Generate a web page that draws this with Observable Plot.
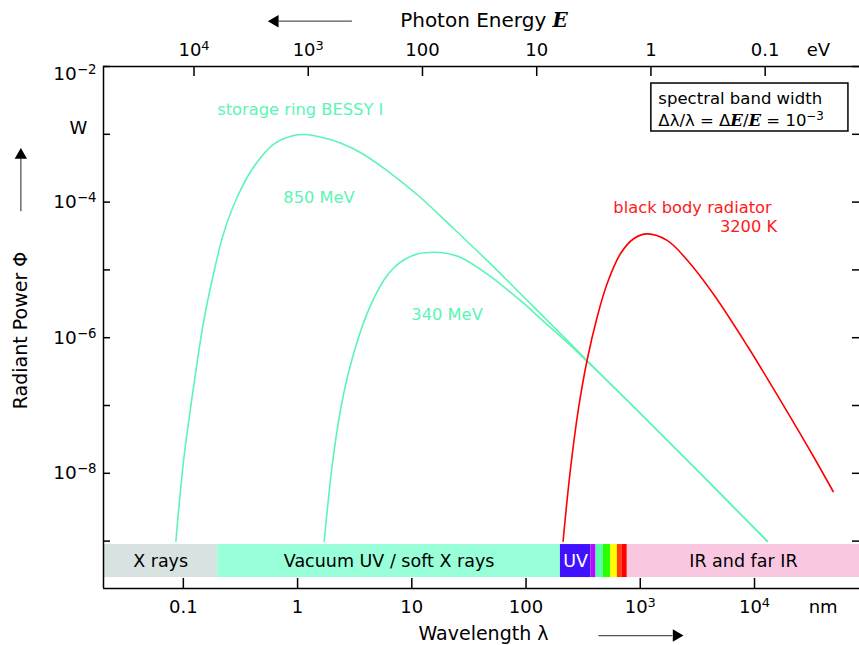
<!DOCTYPE html>
<html>
<head>
<meta charset="utf-8">
<script src="https://cdn.jsdelivr.net/npm/d3@7"></script>
<script src="https://cdn.jsdelivr.net/npm/@observablehq/plot@0.6"></script>
<style>
  html, body { margin: 0; padding: 0; background: #fff; }
  svg { display: block; }
</style>
</head>
<body>
<div id="chart"></div>
<script>
// ---------- data ----------
const hc = 1239.84; // eV·nm

// storage ring BESSY I, 850 MeV
const lambda850 = [0.0861, 0.1005, 0.123, 0.150, 0.184, 0.225, 0.295, 0.412, 0.616, 0.923, 1.17, 1.58, 2.37, 3.54, 6.07, 11.9, 23.2, 45.5, 89.1, 221, 342, 1002, 3360, 12900];
const power850  = [1.0e-9, 1.545e-8, 1.905e-7, 1.676e-6, 8.85e-6, 3.44e-5, 1.17e-4, 3.30e-4, 7.12e-4, 9.6e-4, 9.93e-4, 9.12e-4, 7.44e-4, 5.39e-4, 2.92e-4, 1.17e-4, 4.08e-5, 1.38e-5, 4.49e-6, 9.73e-7, 4.61e-7, 7.62e-8, 9.93e-9, 1.0e-9];

// storage ring BESSY I, 340 MeV
const lambda340 = [1.71, 2.07, 2.53, 3.09, 4.05, 5.66, 6.93, 8.48, 11.4, 15.5, 20.5, 26.6, 45.5, 89.1, 143, 221, 342, 1002, 3360, 12900];
const power340  = [1.0e-9, 1.94e-8, 1.49e-7, 5.79e-7, 2.25e-6, 6.98e-6, 1.067e-5, 1.40e-5, 1.73e-5, 1.82e-5, 1.75e-5, 1.54e-5, 8.75e-6, 3.54e-6, 1.73e-6, 9.03e-7, 4.49e-7, 7.62e-8, 9.93e-9, 1.0e-9];

// black body radiator, 3200 K
const lambdaBB = [211, 244, 289, 342, 419, 512, 670, 875, 1148, 1718, 2570, 4395, 8610, 16860, 33000, 48800];
const powerBB  = [1.0e-9, 1.10e-8, 9.44e-8, 4.61e-7, 2.0e-6, 6.24e-6, 1.73e-5, 2.88e-5, 3.40e-5, 2.72e-5, 1.40e-5, 4.34e-6, 7.67e-7, 1.19e-7, 1.74e-8, 5.39e-9];

// spectral bands (nm)
const bandNames  = ["X rays", "Vacuum UV / soft X rays", "UV", "", "", "", "", "", "", "IR and far IR"];
const bandStart  = [0.02, 0.2, 200, 370, 410, 475, 550, 630, 690, 770];
const bandEnd    = [0.2, 200, 370, 410, 475, 550, 630, 690, 770, 83000];
const bandColors = ["#d8e3e1", "#99ffd9", "#4010ff", "#b40cff", "#55ffaa", "#2cff00", "#ffff00", "#ff4000", "#ff0000", "#f9c8e0"];
const bandText   = ["#000", "#000", "#fff", "#000", "#000", "#000", "#000", "#000", "#000", "#000"];
const bandLow = 2.9e-10, bandHigh = 8.9e-10;

// ticks
const wavelengthTicks  = [0.1, 1, 10, 100, 1e3, 1e4];
const wavelengthLabels = ["0.1", "1", "10", "100", "10^3", "10^4"];
const energyTicks  = [1e4, 1e3, 100, 10, 1, 0.1];
const energyLabels = ["10^4", "10^3", "100", "10", "1", "0.1"];
const powerTicks = [1e-2, 1e-3, 1e-4, 1e-5, 1e-6, 1e-7, 1e-8, 1e-9];
const powerLabelValues = [1e-4, 1e-6, 1e-8];
const powerLabels = ["10^−4", "10^−6", "10^−8"];

// annotations (data coordinates)
const curveLabels = [
  {x: 0.198, y: 2.32e-3, text: "storage ring BESSY I", color: "#5cf5b5", anchor: "start"},
  {x: 0.75, y: 1.17e-4, text: "850 MeV", color: "#5cf5b5", anchor: "start"},
  {x: 9.9, y: 2.2e-6, text: "340 MeV", color: "#5cf5b5", anchor: "start"},
  {x: 581, y: 8.18e-5, text: "black body radiator", color: "#ff1a1a", anchor: "start"},
  {x: 15800, y: 4.30e-5, text: "3200 K", color: "#ff1a1a", anchor: "end"}
];
const arrows = [
  {x1: 2.99, y1: 0.0466, x2: 0.68, y2: 0.0466, hx: 0.634, hy: 0.0466, rot: -90},
  {x1: 430, y1: 4.05e-11, x2: 1910, y2: 4.05e-11, hx: 2070, hy: 4.05e-11, rot: 90},
  {x1: 0.00378, y1: 7.35e-5, x2: 0.00378, y2: 4.4e-4, hx: 0.00378, hy: 4.92e-4, rot: 0}
];
const infoBox = [{x1: 1250, x2: 66400, y1: 1.1e-3, y2: 5.61e-3}];
const infoLines = [
  {x: 1440, y: 3.37e-3, text: "spectral band width"},
  {x: 1440, y: 1.60e-3, text: "Δλ/λ = Δ{E}/{E} = 10^−3"}
];

// ---------- tables ----------
const curves = [
  ...lambda850.map((l, i) => ({lambda: l, power: power850[i], series: "850", color: "#5cf5b5"})),
  ...lambda340.map((l, i) => ({lambda: l, power: power340[i], series: "340", color: "#5cf5b5"})),
  ...lambdaBB.map((l, i) => ({lambda: l, power: powerBB[i], series: "bb", color: "#ff0000"}))
];
const bands = bandNames.map((name, i) => ({name, x1: bandStart[i], x2: bandEnd[i], color: bandColors[i], textColor: bandText[i]}));

const xMin = 0.02, xMax = 83000, yMin = 2e-10, yMax = 1e-2;
const FW = 859 - 103, FH = 645 - 66 - 57;

const chart = Plot.plot({
  width: 859,
  height: 645,
  marginLeft: 103,
  marginRight: 0,
  marginTop: 66,
  marginBottom: 57,
  x: {type: "log", domain: [xMin, xMax], axis: null},
  y: {type: "log", domain: [yMin, yMax], axis: null},
  color: {type: "identity"},
  style: {fontFamily: "'DejaVu Sans', sans-serif", background: "white", overflow: "visible"},
  marks: [
    // bands
    Plot.rect(bands, {x1: "x1", x2: "x2", y1: () => bandLow, y2: () => bandHigh, fill: "color"}),
    Plot.text(bands.filter(d => d.name), {x: d => Math.sqrt(d.x1 * d.x2), y: () => Math.sqrt(bandLow * bandHigh), text: "name", fill: "textColor", fontSize: 17.5, lineAnchor: "middle"}),
    // curves
    Plot.line(curves, {x: "lambda", y: "power", z: "series", stroke: "color", strokeWidth: 1.6, curve: "catmull-rom"}),
    // curve labels
    Plot.text(curveLabels.filter(d => d.anchor === "start"), {x: "x", y: "y", text: "text", fill: "color", fontSize: 16.3, textAnchor: "start", lineAnchor: "middle"}),
    Plot.text(curveLabels.filter(d => d.anchor === "end"), {x: "x", y: "y", text: "text", fill: "color", fontSize: 16.3, textAnchor: "end", lineAnchor: "middle"}),
    // frame
    Plot.ruleY([yMax], {stroke: "#000", strokeWidth: 1.5}),
    Plot.ruleY([yMin], {stroke: "#000", strokeWidth: 1.5}),
    Plot.ruleX([xMin], {stroke: "#000", strokeWidth: 1.5}),
    // inward ticks
    Plot.tickX(wavelengthTicks, {x: d => d, insetTop: FH - 10, stroke: "#000", strokeWidth: 1.5}),
    Plot.tickX(energyTicks, {x: d => hc / d, insetBottom: FH - 10, stroke: "#000", strokeWidth: 1.5}),
    Plot.tickY(powerTicks, {y: d => d, insetRight: FW - 7, stroke: "#000", strokeWidth: 1.5}),
    Plot.tickY(powerTicks, {y: d => d, insetLeft: FW - 7, stroke: "#000", strokeWidth: 1.5}),
    // tick labels
    Plot.text(wavelengthTicks, {x: d => d, text: (d, i) => wavelengthLabels[i], frameAnchor: "bottom", lineAnchor: "middle", dy: 19, fontSize: 18, fill: "#000"}),
    Plot.text(["nm"], {x: () => 39900, text: d => d, frameAnchor: "bottom", lineAnchor: "middle", dy: 19, fontSize: 18, fill: "#000"}),
    Plot.text(energyTicks, {x: d => hc / d, text: (d, i) => energyLabels[i], frameAnchor: "top", lineAnchor: "middle", dy: -16, fontSize: 18, fill: "#000"}),
    Plot.text(["eV"], {x: () => 36300, text: d => d, frameAnchor: "top", lineAnchor: "middle", dy: -16, fontSize: 18, fill: "#000"}),
    Plot.text(powerLabelValues, {y: d => d, text: (d, i) => powerLabels[i], frameAnchor: "left", textAnchor: "end", lineAnchor: "middle", dx: -7, fontSize: 18.5, fill: "#000"}),
    Plot.text(["10^−2"], {y: () => 1e-2, text: d => d, frameAnchor: "left", textAnchor: "end", lineAnchor: "middle", dx: -7, dy: 8, fontSize: 18.5, fill: "#000"}),
    Plot.text(["W"], {y: () => 1e-3, text: d => d, frameAnchor: "left", textAnchor: "middle", lineAnchor: "middle", dx: -25, dy: -6, fontSize: 18, fill: "#000"}),
    // axis titles
    Plot.text(["Wavelength λ"], {text: d => d, frameAnchor: "bottom", textAnchor: "middle", lineAnchor: "middle", dx: 2, dy: 45, fontSize: 19, fill: "#000"}),
    Plot.text(["Photon Energy {E}"], {text: d => d, frameAnchor: "top", textAnchor: "middle", lineAnchor: "middle", dx: 2.5, dy: -46, fontSize: 20, fill: "#000"}),
    Plot.text(["Radiant Power Φ"], {text: d => d, frameAnchor: "left", textAnchor: "middle", lineAnchor: "middle", rotate: -90, dx: -83, dy: 3, fontSize: 19, fill: "#000"}),
    // arrows
    Plot.link(arrows, {x1: "x1", y1: "y1", x2: "x2", y2: "y2", stroke: "#555", strokeWidth: 1.3}),
    Plot.dot(arrows, {x: "hx", y: "hy", symbol: "triangle", r: 4.6, fill: "#000", stroke: "none", rotate: "rot"}),
    // info box
    Plot.rect(infoBox, {x1: "x1", x2: "x2", y1: "y1", y2: "y2", fill: "white", stroke: "#000", strokeWidth: 1.5}),
    Plot.text(infoLines, {x: "x", y: "y", text: "text", textAnchor: "start", lineAnchor: "middle", fontSize: 16.5, fill: "#000"})
  ]
});

// rich text: {X} -> italic serif, ^rest -> superscript
const SVGNS = "http://www.w3.org/2000/svg";
function richText(el) {
  const s = el.textContent;
  if (!/[\^{]/.test(s)) return;
  const parts = s.split(/(\{[^}]*\}|\^.*$)/).filter(p => p !== "");
  el.textContent = "";
  parts.forEach(p => {
    const t = document.createElementNS(SVGNS, "tspan");
    if (p[0] === "{") {
      t.setAttribute("font-family", "'DejaVu Serif', serif");
      t.setAttribute("font-style", "italic");
      t.setAttribute("font-weight", "bold");
      t.textContent = p.slice(1, -1);
    } else if (p[0] === "^") {
      t.setAttribute("dy", "-0.45em");
      t.setAttribute("font-size", "72%");
      t.textContent = p.slice(1);
    } else {
      t.textContent = p;
    }
    el.appendChild(t);
  });
}
d3.select(chart).selectAll("text").each(function() { richText(this); });

document.getElementById("chart").appendChild(chart);
</script>
</body>
</html>
